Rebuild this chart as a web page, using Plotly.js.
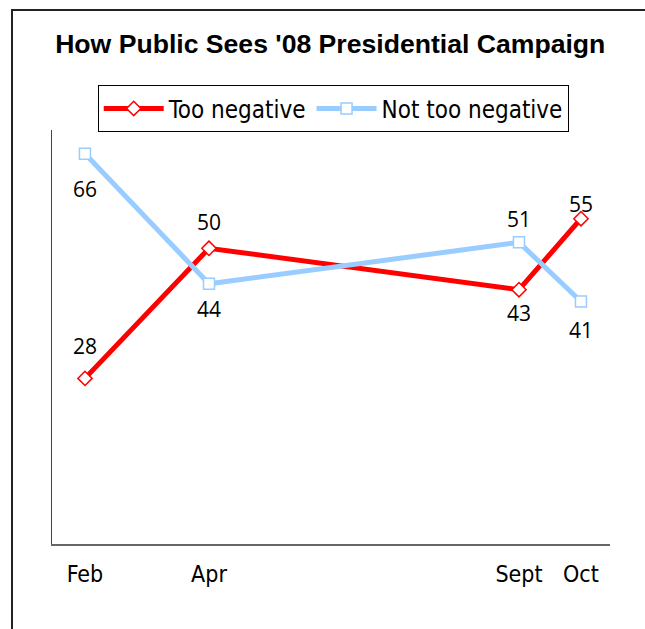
<!DOCTYPE html>
<html>
<head>
<meta charset="utf-8">
<script src="https://cdn.plot.ly/plotly-3.0.1.min.js"></script>
<style>
  html, body { margin: 0; padding: 0; background: #fff; }
  #wrap { position: relative; width: 645px; height: 629px; overflow: hidden; }
  #chart { position: absolute; left: 0; top: 0; width: 645px; height: 629px; }
  #frame { position: absolute; left: 11px; top: 9px; width: 700px; height: 700px;
           border-left: 2px solid #222; border-top: 2px solid #222; pointer-events: none; }
</style>
</head>
<body>
<div id="wrap">
  <div id="chart"></div>
  <div id="frame"></div>
</div>
<script>
// Data
const monthNums = [2, 4, 9, 10];
const monthLabels = ["Feb", "Apr", "Sept", "Oct"];
const tooNegative = [28, 50, 43, 55];
const notTooNegative = [66, 44, 51, 41];

// Label placement (pixels above(+)/below(-) each point) – styling only
const tooNegShift = [32, 26, -23, 15];
const notTooNegShift = [-35, -25, 23, -28];

const narrowFont = "DejaVu Sans Condensed, sans-serif";
const labelFont = { family: "Open Sans, Noto Sans, sans-serif", size: 21, color: "#000" };

const traces = [
  {
    name: "Too negative",
    x: monthNums, y: tooNegative,
    mode: "lines+markers",
    line: { color: "#FF0000", width: 5 },
    marker: { symbol: "diamond", size: 11, color: "#FFFFFF", line: { color: "#FF0000", width: 1.5 } },
    cliponaxis: false
  },
  {
    name: "Not too negative",
    x: monthNums, y: notTooNegative,
    mode: "lines+markers",
    line: { color: "#99CCFF", width: 5 },
    marker: { symbol: "square", size: 11, color: "#FFFFFF", line: { color: "#99CCFF", width: 1.5 } },
    cliponaxis: false
  }
];

const annotations = [];
monthNums.forEach((m, i) => {
  annotations.push({ x: m, y: tooNegative[i], xref: "x", yref: "y", text: String(tooNegative[i]),
    showarrow: false, yshift: tooNegShift[i], font: labelFont });
  annotations.push({ x: m, y: notTooNegative[i], xref: "x", yref: "y", text: String(notTooNegative[i]),
    showarrow: false, yshift: notTooNegShift[i], font: labelFont });
});

const layout = {
  width: 645, height: 629,
  margin: { l: 52, r: 35, t: 130, b: 85 },
  paper_bgcolor: "#fff", plot_bgcolor: "#fff",
  showlegend: true,
  title: {
    text: "<b>How Public Sees '08 Presidential Campaign</b>",
    font: { family: "Liberation Sans, Arial, sans-serif", size: 26.6, color: "#000" },
    x: 0.512, xanchor: "center", y: 0.93, yanchor: "middle"
  },
  legend: {
    orientation: "h",
    x: 0.504, xanchor: "center", y: 1.051, yanchor: "middle",
    bordercolor: "#000", borderwidth: 1, bgcolor: "#fff",
    font: { family: narrowFont, size: 24, color: "#000" },
    itemwidth: 60,
    tracegroupgap: 0
  },
  annotations: annotations,
  xaxis: {
    range: [1.468, 10.468],
    tickvals: monthNums, ticktext: monthLabels,
    showgrid: false, zeroline: false,
    showline: true, linecolor: "#666", linewidth: 1.5,
    ticks: "", ticklabelstandoff: 9,
    tickfont: { family: narrowFont, size: 23, color: "#000" }
  },
  yaxis: {
    range: [0, 70],
    showgrid: false, zeroline: false,
    showline: true, linecolor: "#444", linewidth: 1,
    showticklabels: false, ticks: ""
  }
};

Plotly.newPlot("chart", traces, layout, { displayModeBar: false, staticPlot: true });
</script>
</body>
</html>
